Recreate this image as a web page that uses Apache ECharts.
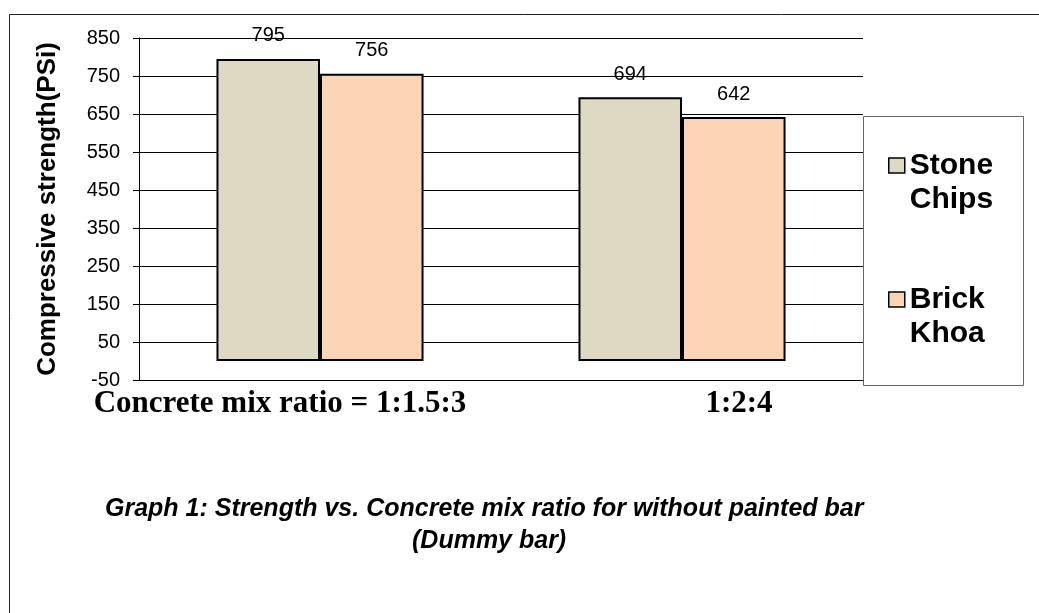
<!DOCTYPE html>
<html>
<head>
<meta charset="utf-8">
<script src="https://cdn.jsdelivr.net/npm/echarts@6/dist/echarts.min.js"></script>
<style>
  html, body { margin: 0; padding: 0; background: #fff; }
  #chart { width: 1039px; height: 613px; }
</style>
</head>
<body>
<div id="chart"></div>
<script>
// Compressive strength (PSi) by concrete mix ratio
const categories = ['Concrete mix ratio = 1:1.5:3', '1:2:4'];
const seriesNames = ['Stone Chips', 'Brick Khoa'];
const stoneChips = [795, 694];
const brickKhoa = [756, 642];
const yMin = -50;
const yMax = 850;
const yStep = 100;
const yTitle = 'Compressive strength(PSi)';
const captionLines = [
  'Graph 1: Strength vs. Concrete mix ratio for without painted bar',
  '(Dummy bar)'
];

const SANS = 'Liberation Sans, Arial, sans-serif';
const SERIF = 'Liberation Serif, Times New Roman, serif';

const chart = echarts.init(document.getElementById('chart'), null, { renderer: 'canvas' });

const barLabel = {
  show: true,
  position: 'top',
  distance: 13,
  color: '#000',
  fontFamily: SANS,
  fontSize: 20
};

const serifBold = { fontFamily: SERIF, fontWeight: 'bold', fontSize: 31, color: '#000' };

chart.setOption({
  animation: false,
  backgroundColor: '#fff',
  grid: { left: 139, top: 38, right: 176, bottom: 233, containLabel: false },
  xAxis: {
    type: 'category',
    data: categories,
    axisLine: { show: true, onZero: false, lineStyle: { color: '#000', width: 1 } },
    axisTick: { show: false },
    axisLabel: Object.assign({
      interval: 0,
      margin: 8,
      // first label sits left of its group, second one right of it
      formatter: (v, i) => (i === 0 ? '{l|' + v + '}' : '{r|' + v + '}'),
      rich: {
        l: Object.assign({ padding: [0, 80, 0, 0] }, serifBold),
        r: Object.assign({ padding: [0, 0, 0, 114] }, serifBold)
      }
    }, serifBold),
    splitLine: { show: false }
  },
  yAxis: {
    type: 'value',
    min: yMin,
    max: yMax,
    interval: yStep,
    name: yTitle,
    nameLocation: 'middle',
    nameRotate: 90,
    nameGap: 78,
    nameTextStyle: {
      fontFamily: SANS,
      fontWeight: 'bold',
      fontSize: 26,
      color: '#000'
    },
    axisLine: { show: true, lineStyle: { color: '#000', width: 1 } },
    axisTick: { show: true, length: 6, lineStyle: { color: '#000', width: 1 } },
    axisLabel: {
      margin: 19,
      color: '#000',
      fontFamily: SANS,
      fontSize: 20
    },
    splitLine: { show: true, lineStyle: { color: '#000', width: 1 } }
  },
  legend: {
    orient: 'vertical',
    left: 888,
    top: 114.5,
    padding: 0,
    itemGap: 32,
    itemWidth: 16,
    itemHeight: 15,
    selectedMode: false,
    icon: 'rect',
    itemStyle: { borderColor: '#000', borderWidth: 1.5 },
    // blank first line keeps the marker level with the first word
    formatter: (name) => '\n' + name.replace(' ', '\n'),
    textStyle: {
      fontFamily: SANS,
      fontWeight: 'bold',
      fontSize: 30,
      lineHeight: 34,
      color: '#000'
    },
    data: seriesNames
  },
  series: [
    {
      name: seriesNames[0],
      type: 'bar',
      data: stoneChips,
      barGap: '0%',
      barCategoryGap: '42.8%',
      itemStyle: { color: '#DDD9C3', borderColor: '#000', borderWidth: 2 },
      label: barLabel
    },
    {
      name: seriesNames[1],
      type: 'bar',
      data: brickKhoa,
      barGap: '0%',
      barCategoryGap: '42.8%',
      itemStyle: { color: '#FBD5B5', borderColor: '#000', borderWidth: 2 },
      label: barLabel
    }
  ],
  graphic: [
    // outer frame (left and top edges)
    { type: 'line', z: 100, shape: { x1: 9.5, y1: 14.5, x2: 1039, y2: 14.5 }, style: { stroke: '#222', lineWidth: 1 } },
    { type: 'line', z: 100, shape: { x1: 9.5, y1: 14.5, x2: 9.5, y2: 613 }, style: { stroke: '#222', lineWidth: 1 } },
    // legend frame
    { type: 'rect', z: -1, shape: { x: 863.5, y: 116.5, width: 160, height: 269 }, style: { fill: '#fff', stroke: '#666', lineWidth: 1 } },
    // caption
    {
      type: 'text', left: 105, top: 497,
      style: { text: captionLines[0], fill: '#000', font: 'italic bold 25px ' + SANS }
    },
    {
      type: 'text', left: 412, top: 529,
      style: { text: captionLines[1], fill: '#000', font: 'italic bold 25px ' + SANS }
    }
  ]
});
</script>
</body>
</html>
